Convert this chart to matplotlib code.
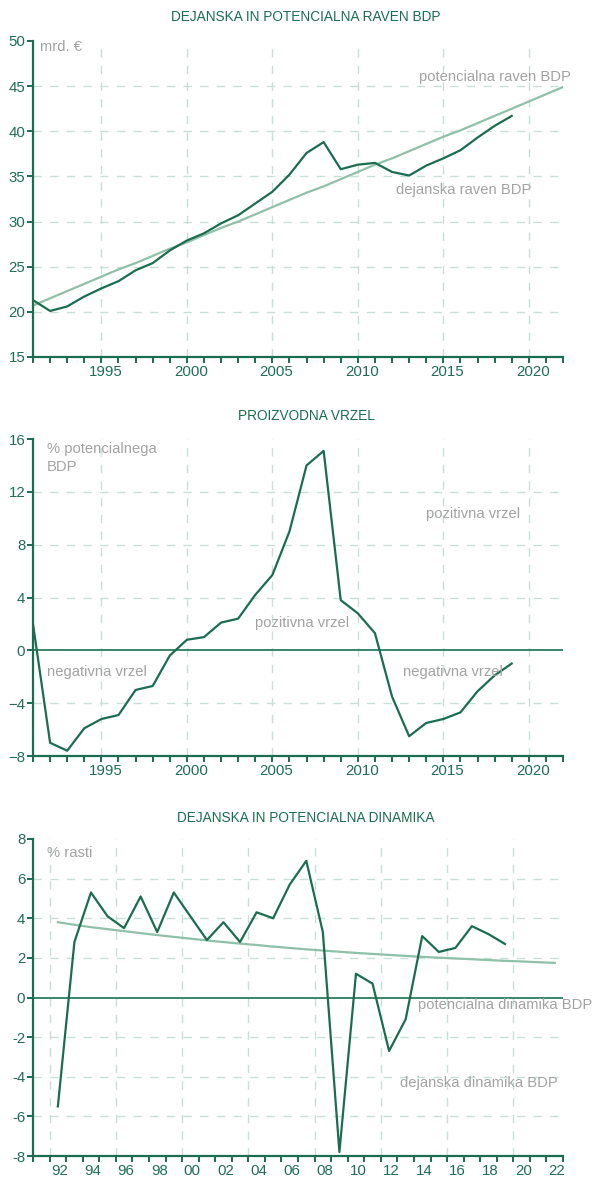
import matplotlib
matplotlib.use("Agg")
import matplotlib.pyplot as plt
from matplotlib.ticker import MultipleLocator, FixedLocator
import matplotlib.transforms as mtransforms

plt.rcParams['font.family'] = ['Liberation Sans', 'DejaVu Sans']

# ---------------- data ----------------
years_lvl = list(range(1991, 2020))
actual_level = [21.3, 20.1, 20.6, 21.7, 22.6, 23.4, 24.6, 25.4, 26.8, 27.9,
                28.7, 29.8, 30.7, 32.0, 33.3, 35.2, 37.6, 38.8, 35.8, 36.3,
                36.5, 35.5, 35.1, 36.2, 37.0, 37.9, 39.3, 40.6, 41.7]
years_pot = list(range(1991, 2023))
potential_level = [20.7, 21.5, 22.3, 23.1, 23.9, 24.7, 25.4, 26.2, 27.0, 27.7,
                   28.5, 29.3, 30.0, 30.8, 31.6, 32.4, 33.2, 33.9, 34.7, 35.5,
                   36.3, 37.0, 37.8, 38.6, 39.4, 40.1, 40.9, 41.7, 42.5, 43.3,
                   44.1, 44.9]

years_gap = list(range(1991, 2020))
output_gap = [2.0, -7.0, -7.6, -5.9, -5.2, -4.9, -3.0, -2.7, -0.4, 0.8,
              1.0, 2.1, 2.4, 4.2, 5.7, 9.0, 14.0, 15.1, 3.8, 2.8,
              1.3, -3.5, -6.5, -5.5, -5.2, -4.7, -3.1, -1.9, -1.0]

years_gr = list(range(1992, 2020))
actual_growth = [-5.5, 2.8, 5.3, 4.1, 3.5, 5.1, 3.3, 5.3, 4.1, 2.9,
                 3.8, 2.8, 4.3, 4.0, 5.7, 6.9, 3.3, -7.8, 1.2, 0.7,
                 -2.7, -1.1, 3.1, 2.3, 2.5, 3.6, 3.2, 2.7]
years_pgr = list(range(1992, 2023))
potential_growth = [3.80, 3.67, 3.55, 3.45, 3.35, 3.25, 3.15, 3.06, 2.97, 2.88,
                    2.80, 2.72, 2.65, 2.57, 2.50, 2.43, 2.37, 2.31, 2.25, 2.20,
                    2.15, 2.10, 2.05, 2.01, 1.97, 1.93, 1.89, 1.85, 1.82, 1.78,
                    1.75]

titles = ["DEJANSKA IN POTENCIALNA RAVEN BDP", "PROIZVODNA VRZEL",
          "DEJANSKA IN POTENCIALNA DINAMIKA"]

# ---------------- style ----------------
DARK = '#1a6e4f'
LIGHT = '#8fc0a9'
GRID = '#c9dfd5'
ZERO = '#2a7d5f'
GRAY = '#a3a3a3'
TICK = '#1f6e52'
TFS = 9.8    # title size
LFS = 10.8   # tick label size
AFS = 10.6   # annotation size

W, H = 593, 1180
fig = plt.figure(figsize=(W / 100, H / 100), dpi=100)


def add_ax(left, right, top, bottom):
    return fig.add_axes([left / W, 1 - bottom / H, (right - left) / W, (bottom - top) / H])


def style(ax):
    for s in ['top', 'right']:
        ax.spines[s].set_visible(False)
    for s in ['left', 'bottom']:
        ax.spines[s].set_color(DARK)
        ax.spines[s].set_linewidth(1.6)
    ax.tick_params(axis='both', which='both', direction='out', color=DARK,
                   width=1.4, length=4, labelcolor=TICK, labelsize=LFS, pad=1.5)
    ax.set_facecolor('none')


def hgrid(ax, vals):
    for v in vals:
        ax.axhline(v, color=GRID, lw=1.0, ls=(0, (6, 6)), zorder=0)


def vgrid(ax, vals):
    for v in vals:
        ax.axvline(v, color=GRID, lw=1.0, ls=(0, (6, 6)), zorder=0)


def shift_xlabels(ax, dx):
    off = mtransforms.ScaledTranslation(dx / 100, 0, fig.dpi_scale_trans)
    for lab in ax.get_xticklabels():
        lab.set_transform(lab.get_transform() + off)


def note(x, y, s, ha='left', **kw):
    fig.text(x / W, 1 - y / H, s, color=GRAY, fontsize=AFS, ha=ha, va='center', **kw)


# ---------------- chart 1 ----------------
ax1 = add_ax(33, 563, 41, 357)
style(ax1)
ax1.set_xlim(1991, 2022)
ax1.set_ylim(15, 50)
ax1.set_yticks(range(15, 51, 5))
ax1.set_xticks(range(1995, 2021, 5))
ax1.xaxis.set_minor_locator(MultipleLocator(1))
hgrid(ax1, range(20, 46, 5))
vgrid(ax1, range(1995, 2021, 5))
ax1.plot(years_pot, potential_level, color=LIGHT, lw=1.6, zorder=2)
ax1.plot(years_lvl, actual_level, color=DARK, lw=1.6, zorder=3)
shift_xlabels(ax1, 4)
fig.text(306 / W, 1 - 17 / H, titles[0], color=DARK, fontsize=TFS, ha='center', va='center')
note(40, 47, "mrd. €")
note(571, 77, "potencialna raven BDP", ha='right')
note(531, 190, "dejanska raven BDP", ha='right')

# ---------------- chart 2 ----------------
ax2 = add_ax(33, 563, 439, 756)
style(ax2)
ax2.set_xlim(1991, 2022)
ax2.set_ylim(-8, 16)
ax2.set_yticks(range(-8, 17, 4))
ax2.set_xticks(range(1995, 2021, 5))
ax2.xaxis.set_minor_locator(MultipleLocator(1))
hgrid(ax2, [-4, 4, 8, 12])
vgrid(ax2, range(1995, 2021, 5))
ax2.axhline(0, color=ZERO, lw=1.3, zorder=1)
ax2.plot(years_gap, output_gap, color=DARK, lw=1.6, zorder=3)
shift_xlabels(ax2, 4)
fig.text(306 / W, 1 - 416 / H, titles[1], color=DARK, fontsize=TFS, ha='center', va='center')
note(47, 458, "% potencialnega\nBDP", linespacing=1.4)
note(426, 514, "pozitivna vrzel")
note(255, 623, "pozitivna vrzel")
note(47, 672, "negativna vrzel")
note(403, 672, "negativna vrzel")

# ---------------- chart 3 ----------------
ax3 = add_ax(33, 563, 839, 1156)
style(ax3)
ax3.set_xlim(1990.5, 2022.5)
ax3.set_ylim(-8, 8)
ax3.set_yticks(range(-8, 9, 2))
ax3.set_yticklabels([str(v) for v in range(-8, 9, 2)])
ax3.set_xticks(range(1992, 2023, 2))
ax3.set_xticklabels([f"{y % 100:02d}" for y in range(1992, 2023, 2)])
ax3.tick_params(axis='x', which='major', length=0, pad=5.5)
ax3.xaxis.set_minor_locator(FixedLocator([y + 0.5 for y in range(1990, 2023)]))
hgrid(ax3, [-6, -4, -2, 2, 4, 6])
vgrid(ax3, [1991.5 + 4 * i for i in range(8)])
ax3.axhline(0, color=ZERO, lw=1.3, zorder=1)
ax3.plot(years_pgr, potential_growth, color=LIGHT, lw=1.6, zorder=2)
ax3.plot(years_gr, actual_growth, color=DARK, lw=1.6, zorder=3)
shift_xlabels(ax3, 2)
fig.text(306 / W, 1 - 818 / H, titles[2], color=DARK, fontsize=TFS, ha='center', va='center')
note(47, 853, "% rasti")
note(592, 1005, "potencialna dinamika BDP", ha='right')
note(400, 1083, "dejanska dinamika BDP")

fig.savefig("out.png", dpi=100)
